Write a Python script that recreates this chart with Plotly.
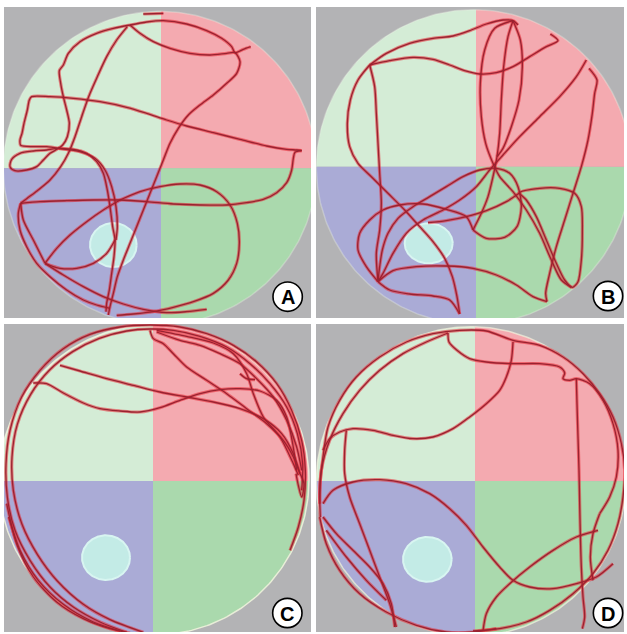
import numpy as np
import plotly.graph_objects as go

# ---------------- data: swim tracks (tracking units per panel) ----------------
PATH_A = [
    [(430, 42), (490, 40)],
    [(390, 75), (440, 66), (490, 62), (560, 72), (620, 92), (665, 115), (695, 140), (705, 158), (730, 148), (752, 140)],
    [(390, 75), (420, 100), (460, 125), (510, 145), (570, 160), (630, 165), (680, 160), (705, 158), (720, 185), (710, 220),
     (680, 250), (640, 285), (600, 315), (565, 345), (535, 385), (510, 430), (490, 480), (470, 530), (450, 580), (430, 630),
     (410, 680), (390, 730), (370, 780), (352, 830), (340, 880), (330, 920), (325, 945)],
    [(390, 75), (340, 85), (290, 100), (240, 125), (205, 160), (190, 195), (178, 212), (182, 250), (190, 290), (200, 330),
     (208, 370), (202, 410), (188, 435), (175, 445)],
    [(382, 80), (350, 120), (320, 170), (292, 230), (266, 290), (245, 350), (225, 410), (205, 460), (182, 500), (150, 540),
     (112, 572), (80, 596), (62, 610)],
    [(905, 452), (890, 450), (860, 448), (800, 438), (720, 418), (640, 398), (560, 378), (500, 360), (440, 340), (380, 322),
     (300, 305), (220, 295), (150, 290), (95, 290), (88, 300), (82, 330), (72, 370), (66, 400), (60, 420), (62, 436),
     (100, 440), (140, 440), (175, 445)],
    [(175, 445), (140, 450), (100, 453), (60, 460), (35, 478), (30, 500), (45, 512), (80, 510), (110, 500), (130, 480),
     (150, 460), (175, 445)],
    [(175, 445), (220, 448), (260, 460), (290, 485), (310, 520), (322, 570), (330, 620), (338, 680), (345, 720), (342, 770),
     (335, 820), (328, 870), (320, 910), (318, 935)],
    [(175, 445), (240, 455), (285, 475), (315, 510), (335, 560), (348, 620), (352, 680), (348, 720)],
    [(62, 610), (120, 605), (200, 602), (280, 600), (360, 600), (440, 605), (520, 612), (600, 615), (680, 615), (740, 608),
     (790, 598), (830, 578), (860, 548), (875, 510), (880, 475), (885, 457), (905, 452)],
    [(360, 600), (420, 575), (480, 560), (540, 552), (600, 555), (650, 575), (690, 615), (712, 670), (718, 730), (710, 790),
     (685, 840), (640, 880), (580, 905), (520, 922), (460, 935), (400, 942), (350, 946)],
    [(360, 600), (310, 630), (260, 665), (210, 705), (170, 745), (135, 790)],
    [(135, 790), (180, 805), (230, 805), (280, 790), (320, 760), (345, 720)],
    [(135, 790), (190, 825), (250, 860), (310, 890), (370, 912), (430, 928), (500, 938), (560, 935), (620, 928)],
    [(62, 610), (55, 640), (60, 690), (80, 740), (110, 790), (150, 830), (200, 870), (250, 900), (290, 915), (330, 925)],
    [(62, 610), (70, 660), (100, 720), (135, 790)],
]

PATH_B = [
    [(170, 195), (230, 182), (300, 172), (360, 178), (410, 195), (455, 212), (500, 222), (550, 218), (600, 200), (650, 170),
     (700, 140), (735, 122), (712, 102)],
    [(170, 195), (220, 160), (290, 130), (360, 115), (420, 108), (470, 92), (520, 72), (570, 60), (600, 62), (615, 75)],
    [(170, 195), (135, 240), (112, 300), (103, 370), (110, 440), (135, 490), (175, 530), (225, 580), (275, 630), (320, 680),
     (360, 725), (395, 775), (418, 830), (432, 890), (440, 942)],
    [(170, 195), (185, 260), (190, 340), (195, 430), (200, 520), (205, 610), (200, 690), (190, 760), (195, 845)],
    [(600, 62), (545, 85), (515, 150), (502, 250), (505, 350), (518, 430), (540, 490), (560, 530), (600, 575), (640, 630),
     (680, 700), (715, 780), (745, 840), (775, 862)],
    [(600, 62), (585, 110), (572, 200), (565, 300), (560, 400), (552, 470), (540, 530), (525, 590), (505, 640), (480, 690)],
    [(600, 62), (622, 120), (628, 200), (618, 300), (595, 380), (570, 445), (552, 470)],
    [(820, 180), (790, 230), (740, 290), (680, 350), (620, 410), (570, 465), (530, 510), (490, 560), (440, 600), (390, 630),
     (330, 660), (280, 700), (240, 760), (210, 820), (195, 845)],
    [(828, 205), (852, 240), (845, 280), (838, 340), (825, 420), (805, 500), (780, 580), (755, 660), (730, 740), (710, 820),
     (698, 880), (702, 905)],
    [(620, 578), (680, 565), (740, 565), (785, 580), (805, 620), (808, 700), (805, 780), (795, 845), (778, 862), (755, 840),
     (730, 790), (700, 720), (670, 650), (640, 600), (620, 578)],
    [(345, 668), (400, 662), (460, 650), (520, 632), (580, 605), (620, 578)],
    [(480, 690), (520, 715), (575, 712), (612, 680), (625, 620), (615, 560), (590, 520), (550, 505), (500, 510), (450, 530),
     (400, 560), (350, 590), (300, 620), (255, 655), (225, 700), (208, 750), (200, 800), (195, 845)],
    [(195, 845), (160, 800), (135, 750), (140, 700), (170, 660), (210, 630), (260, 615), (330, 612), (400, 628), (460, 650),
     (480, 690)],
    [(195, 845), (230, 870), (290, 882), (360, 888), (410, 900), (440, 942)],
    [(195, 845), (240, 812), (310, 800), (400, 798), (480, 805), (550, 825), (610, 855), (660, 890), (702, 905)],
]

PATH_C = [
    [(380, 946), (300, 915), (220, 870), (150, 810), (90, 730), (45, 640), (22, 540), (18, 440), (30, 340), (65, 240),
     (120, 160), (190, 95), (270, 52), (360, 30), (450, 24), (540, 30), (620, 50), (700, 85), (770, 135), (830, 200),
     (875, 280), (905, 370), (916, 460), (912, 550), (895, 630), (870, 700)],
    [(430, 946), (330, 908), (250, 862), (172, 792), (112, 712), (66, 622), (40, 520), (36, 420), (52, 322), (92, 232),
     (148, 160), (218, 104), (298, 64), (380, 42), (450, 36), (520, 40), (600, 58), (680, 90), (750, 140), (810, 200),
     (860, 270), (892, 350), (908, 440), (905, 520)],
    [(450, 40), (460, 65), (490, 80), (520, 110), (560, 150), (620, 190), (680, 230), (740, 275), (800, 320), (850, 370),
     (880, 420), (900, 470)],
    [(470, 45), (540, 70), (600, 85), (660, 110), (720, 140), (770, 185), (820, 240), (860, 310), (890, 390), (905, 460)],
    [(470, 40), (560, 58), (640, 78), (700, 110), (740, 170), (760, 230), (790, 300), (840, 360), (880, 440), (895, 475)],
    [(100, 198), (140, 200), (190, 228), (250, 258), (300, 275), (360, 282), (420, 285), (480, 272), (540, 250), (600, 230),
     (660, 218), (720, 215), (780, 222), (830, 250), (860, 300), (878, 380), (890, 460)],
    [(180, 145), (240, 162), (320, 185), (400, 205), (480, 225), (560, 240), (640, 255), (720, 275), (790, 305), (845, 350),
     (880, 410), (900, 470)],
    [(720, 170), (740, 185), (765, 188)],
    [(20, 560), (50, 680), (100, 780), (170, 855), (250, 905), (330, 935), (390, 948)],
    [(26, 600), (60, 700), (115, 790), (190, 862), (280, 915), (360, 942)],
    [(900, 470), (912, 500), (905, 540), (895, 505), (888, 470)],
]

PATH_D = [
    [(22, 600), (20, 520), (30, 420), (45, 330), (80, 250), (130, 180), (200, 120), (280, 75), (360, 50), (440, 40),
     (520, 42), (600, 70), (680, 85), (750, 120), (810, 170), (860, 230), (900, 300), (925, 380), (935, 460), (930, 540),
     (915, 620), (885, 700), (840, 770), (780, 830), (710, 880), (640, 915), (560, 935), (480, 942)],
    [(20, 560), (25, 460), (50, 370), (90, 290), (140, 220), (200, 160), (270, 110), (340, 75), (405, 48)],
    [(405, 48), (408, 75), (432, 100), (470, 125), (520, 135), (600, 140), (680, 140), (740, 150), (755, 168), (750, 185),
     (770, 190), (790, 185), (830, 200), (870, 250), (900, 320), (915, 400), (910, 480), (890, 540), (860, 590)],
    [(600, 75), (595, 130), (580, 180), (560, 220), (520, 260), (470, 300), (420, 335), (360, 360), (300, 365), (240, 355),
     (180, 340), (120, 335), (80, 345), (50, 365), (30, 400)],
    [(790, 185), (792, 260), (795, 360), (798, 460), (800, 560), (802, 650), (805, 750), (810, 840), (815, 900), (808, 935)],
    [(860, 590), (840, 650), (832, 720), (840, 790)],
    [(855, 640), (790, 660), (720, 700), (650, 750), (590, 800), (550, 840), (520, 890), (510, 942)],
    [(30, 560), (60, 520), (120, 495), (200, 488), (280, 500), (350, 530), (410, 575), (460, 625), (510, 690), (560, 750),
     (600, 790), (650, 810), (720, 815), (790, 800), (850, 780), (900, 740)],
    [(100, 340), (95, 400), (95, 470), (110, 540), (140, 620), (170, 700), (200, 780), (230, 860), (250, 930)],
    [(30, 600), (70, 650), (120, 700), (170, 750), (210, 800), (235, 860), (245, 930)],
    [(20, 600), (40, 680), (80, 760), (140, 830), (220, 885), (310, 925), (400, 945), (480, 945), (550, 935)],
    [(40, 640), (100, 720), (160, 790), (220, 850)],
]

LETTERS = ["A", "B", "C", "D"]
PATHS = [PATH_A, PATH_B, PATH_C, PATH_D]

# ---------------- layout / styling ----------------
W, H = 627, 634
# panel pixel boxes (left, top, right, bottom)
BOXES = [(4, 7, 311, 318), (316, 7, 624, 318), (4, 324, 311, 632), (316, 324, 624, 632)]
# axis ranges in tracking units
XR = [(12, 933), (9, 933), (12, 933), (9, 933)]
YR = [(954, 21), (954, 21), (945, 21), (945, 21)]
# pool: centre x, centre y, radius, split x, split y
POOL = [(480, 504, 470, 483, 505), (482, 501, 472, 489, 500),
        (462, 489, 465, 459, 492), (474, 493, 464, 486, 492)]
RIM = ["rgba(235,242,228,0.35)", "rgba(235,242,228,0.35)", "rgba(242,244,222,0.85)", "rgba(242,244,222,0.7)"]
PLATFORM = [(340, 735, 70, 66), (347, 730, 72, 60), (318, 722, 72, 67), (343, 727, 73, 67)]
LABEL_POS = [(863, 890), (885, 888), (862, 888), (885, 888)]

GRAY = "#b3b3b5"
Q_COLORS = {"TL": "#d4ecd6", "TR": "#f4aab0", "BL": "#aaabd6", "BR": "#aad9ad"}

fig = go.Figure()


def flat(segs):
    xs, ys = [], []
    for s in segs:
        xs += [p[0] for p in s] + [None]
        ys += [p[1] for p in s] + [None]
    return xs, ys


t = np.linspace(0, 2 * np.pi, 361)
for i in range(4):
    ax = "" if i == 0 else str(i + 1)
    xa, ya = "x" + ax, "y" + ax
    cx, cy, r, sx, sy = POOL[i]
    px = cx + r * np.cos(t)
    py = cy + r * np.sin(t)
    quads = {
        "TL": (np.minimum(px, sx), np.minimum(py, sy)),
        "TR": (np.maximum(px, sx), np.minimum(py, sy)),
        "BL": (np.minimum(px, sx), np.maximum(py, sy)),
        "BR": (np.maximum(px, sx), np.maximum(py, sy)),
    }
    for k, (qx, qy) in quads.items():
        fig.add_trace(go.Scatter(x=qx, y=qy, mode="lines", fill="toself", fillcolor=Q_COLORS[k],
                                 line=dict(width=0, color=Q_COLORS[k]), hoverinfo="skip",
                                 showlegend=False, xaxis=xa, yaxis=ya))
    # pale rim
    fig.add_trace(go.Scatter(x=px, y=py, mode="lines", line=dict(color=RIM[i], width=1.5),
                             hoverinfo="skip", showlegend=False, xaxis=xa, yaxis=ya))
    # platform (under the track)
    pcx, pcy, prx, pry = PLATFORM[i]
    fig.add_trace(go.Scatter(x=pcx + prx * np.cos(t), y=pcy + pry * np.sin(t), mode="lines", fill="toself",
                             fillcolor="#c3ebe6", line=dict(color="#d8f5f1", width=2),
                             hoverinfo="skip", showlegend=False, xaxis=xa, yaxis=ya))
    # track
    xs, ys = flat(PATHS[i])
    fig.add_trace(go.Scatter(x=xs, y=ys, mode="lines",
                             line=dict(color="rgba(232,40,52,0.55)", width=3.2, shape="spline", smoothing=0.8),
                             hoverinfo="skip", showlegend=False, xaxis=xa, yaxis=ya))
    fig.add_trace(go.Scatter(x=xs, y=ys, mode="lines",
                             line=dict(color="#9a2230", width=1.3, shape="spline", smoothing=0.8),
                             hoverinfo="skip", showlegend=False, xaxis=xa, yaxis=ya))
    # label badge
    lx, ly = LABEL_POS[i]
    fig.add_shape(type="circle", xref=xa, yref=ya, x0=lx - 44, x1=lx + 44, y0=ly - 44, y1=ly + 44,
                  fillcolor="white", line=dict(color="black", width=1.6), layer="above")
    fig.add_annotation(x=lx, y=ly + 2, xref=xa, yref=ya, text="<b>" + LETTERS[i] + "</b>", showarrow=False,
                       font=dict(family="Liberation Sans, Arial", size=20, color="black"))

    l, tp, rt, bt = BOXES[i]
    fig.layout["xaxis" + ax] = dict(domain=[l / W, rt / W], range=list(XR[i]), visible=False, fixedrange=True)
    fig.layout["yaxis" + ax] = dict(domain=[1 - bt / H, 1 - tp / H], range=list(YR[i]), visible=False, fixedrange=True)

fig.update_layout(width=W, height=H, margin=dict(l=0, r=0, t=0, b=0), paper_bgcolor="white",
                  plot_bgcolor=GRAY, showlegend=False)

fig.write_html("out.html", config={"displayModeBar": False},
               post_script="document.body.style.margin='0';")
